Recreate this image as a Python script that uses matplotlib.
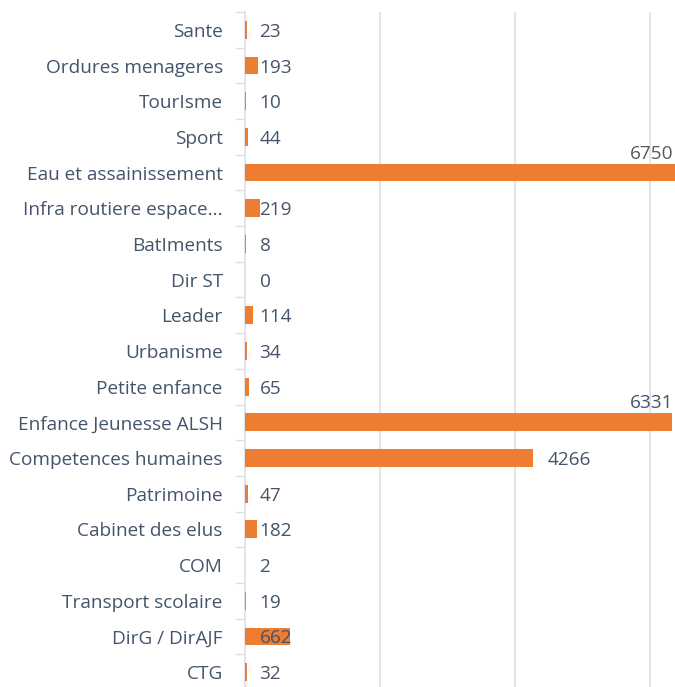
import matplotlib
matplotlib.use('Agg')
import matplotlib.pyplot as plt
import numpy as np

categories = ['Sante', 'Ordures menageres', 'TourIsme', 'Sport', 'Eau et assainissement',
              'Infra routiere espace...', 'BatIments', 'Dir ST', 'Leader', 'Urbanisme',
              'Petite enfance', 'Enfance Jeunesse ALSH', 'Competences humaines', 'Patrimoine',
              'Cabinet des elus', 'COM', 'Transport scolaire', 'DirG / DirAJF', 'CTG']
values = [23, 193, 10, 44, 6750, 219, 8, 0, 114, 34, 65, 6331, 4266, 47, 182, 2, 19, 662, 32]

orange = '#ED7D31'
text_col = '#44546A'
grid_col = '#DCDFE6'
fs = 13.7

plt.rcParams['font.family'] = ['Open Sans', 'DejaVu Sans']

fig = plt.figure(figsize=(6.75, 6.87), dpi=100)
# axes runs a little past the bottom edge, like the cropped original
ax = fig.add_axes([245 / 675, 1 - 690 / 687, 1 - 245 / 675, 678 / 687])

y = np.arange(len(categories))
ax.barh(y, values, height=0.5, color=orange, zorder=3)

xmax = 6370
ax.set_xlim(0, xmax)
ax.set_ylim(len(categories) - 0.5, -0.5)

ax.set_xticks([2000, 4000, 6000])
ax.xaxis.grid(True, color=grid_col, linewidth=1.2, zorder=0)
ax.tick_params(axis='x', which='both', length=0, labelbottom=False)

ax.set_yticks(y)
ax.set_yticklabels(categories, fontsize=fs, color=text_col)
ax.set_yticks(np.arange(len(categories) + 1) - 0.5, minor=True)
ax.tick_params(axis='y', which='major', length=0, pad=16)
ax.tick_params(axis='y', which='minor', length=7, color=grid_col, width=1)

for s in ['top', 'right', 'bottom']:
    ax.spines[s].set_visible(False)
ax.spines['left'].set_color(grid_col)
ax.spines['left'].set_linewidth(1.2)

for yi, v in zip(y, values):
    if v > 6000:
        col = '#595959' if v == 6750 else text_col
        ax.text(xmax - 30, yi - 0.28, str(v), ha='right', va='bottom',
                fontsize=fs, color=col, zorder=4)
    elif v > 1000:
        ax.text(v + 210, yi, str(v), ha='left', va='center_baseline',
                fontsize=fs, color=text_col, zorder=4)
    else:
        ax.text(215, yi, str(v), ha='left', va='center_baseline',
                fontsize=fs, color=text_col, zorder=4)

fig.savefig('out.png', dpi=100)
